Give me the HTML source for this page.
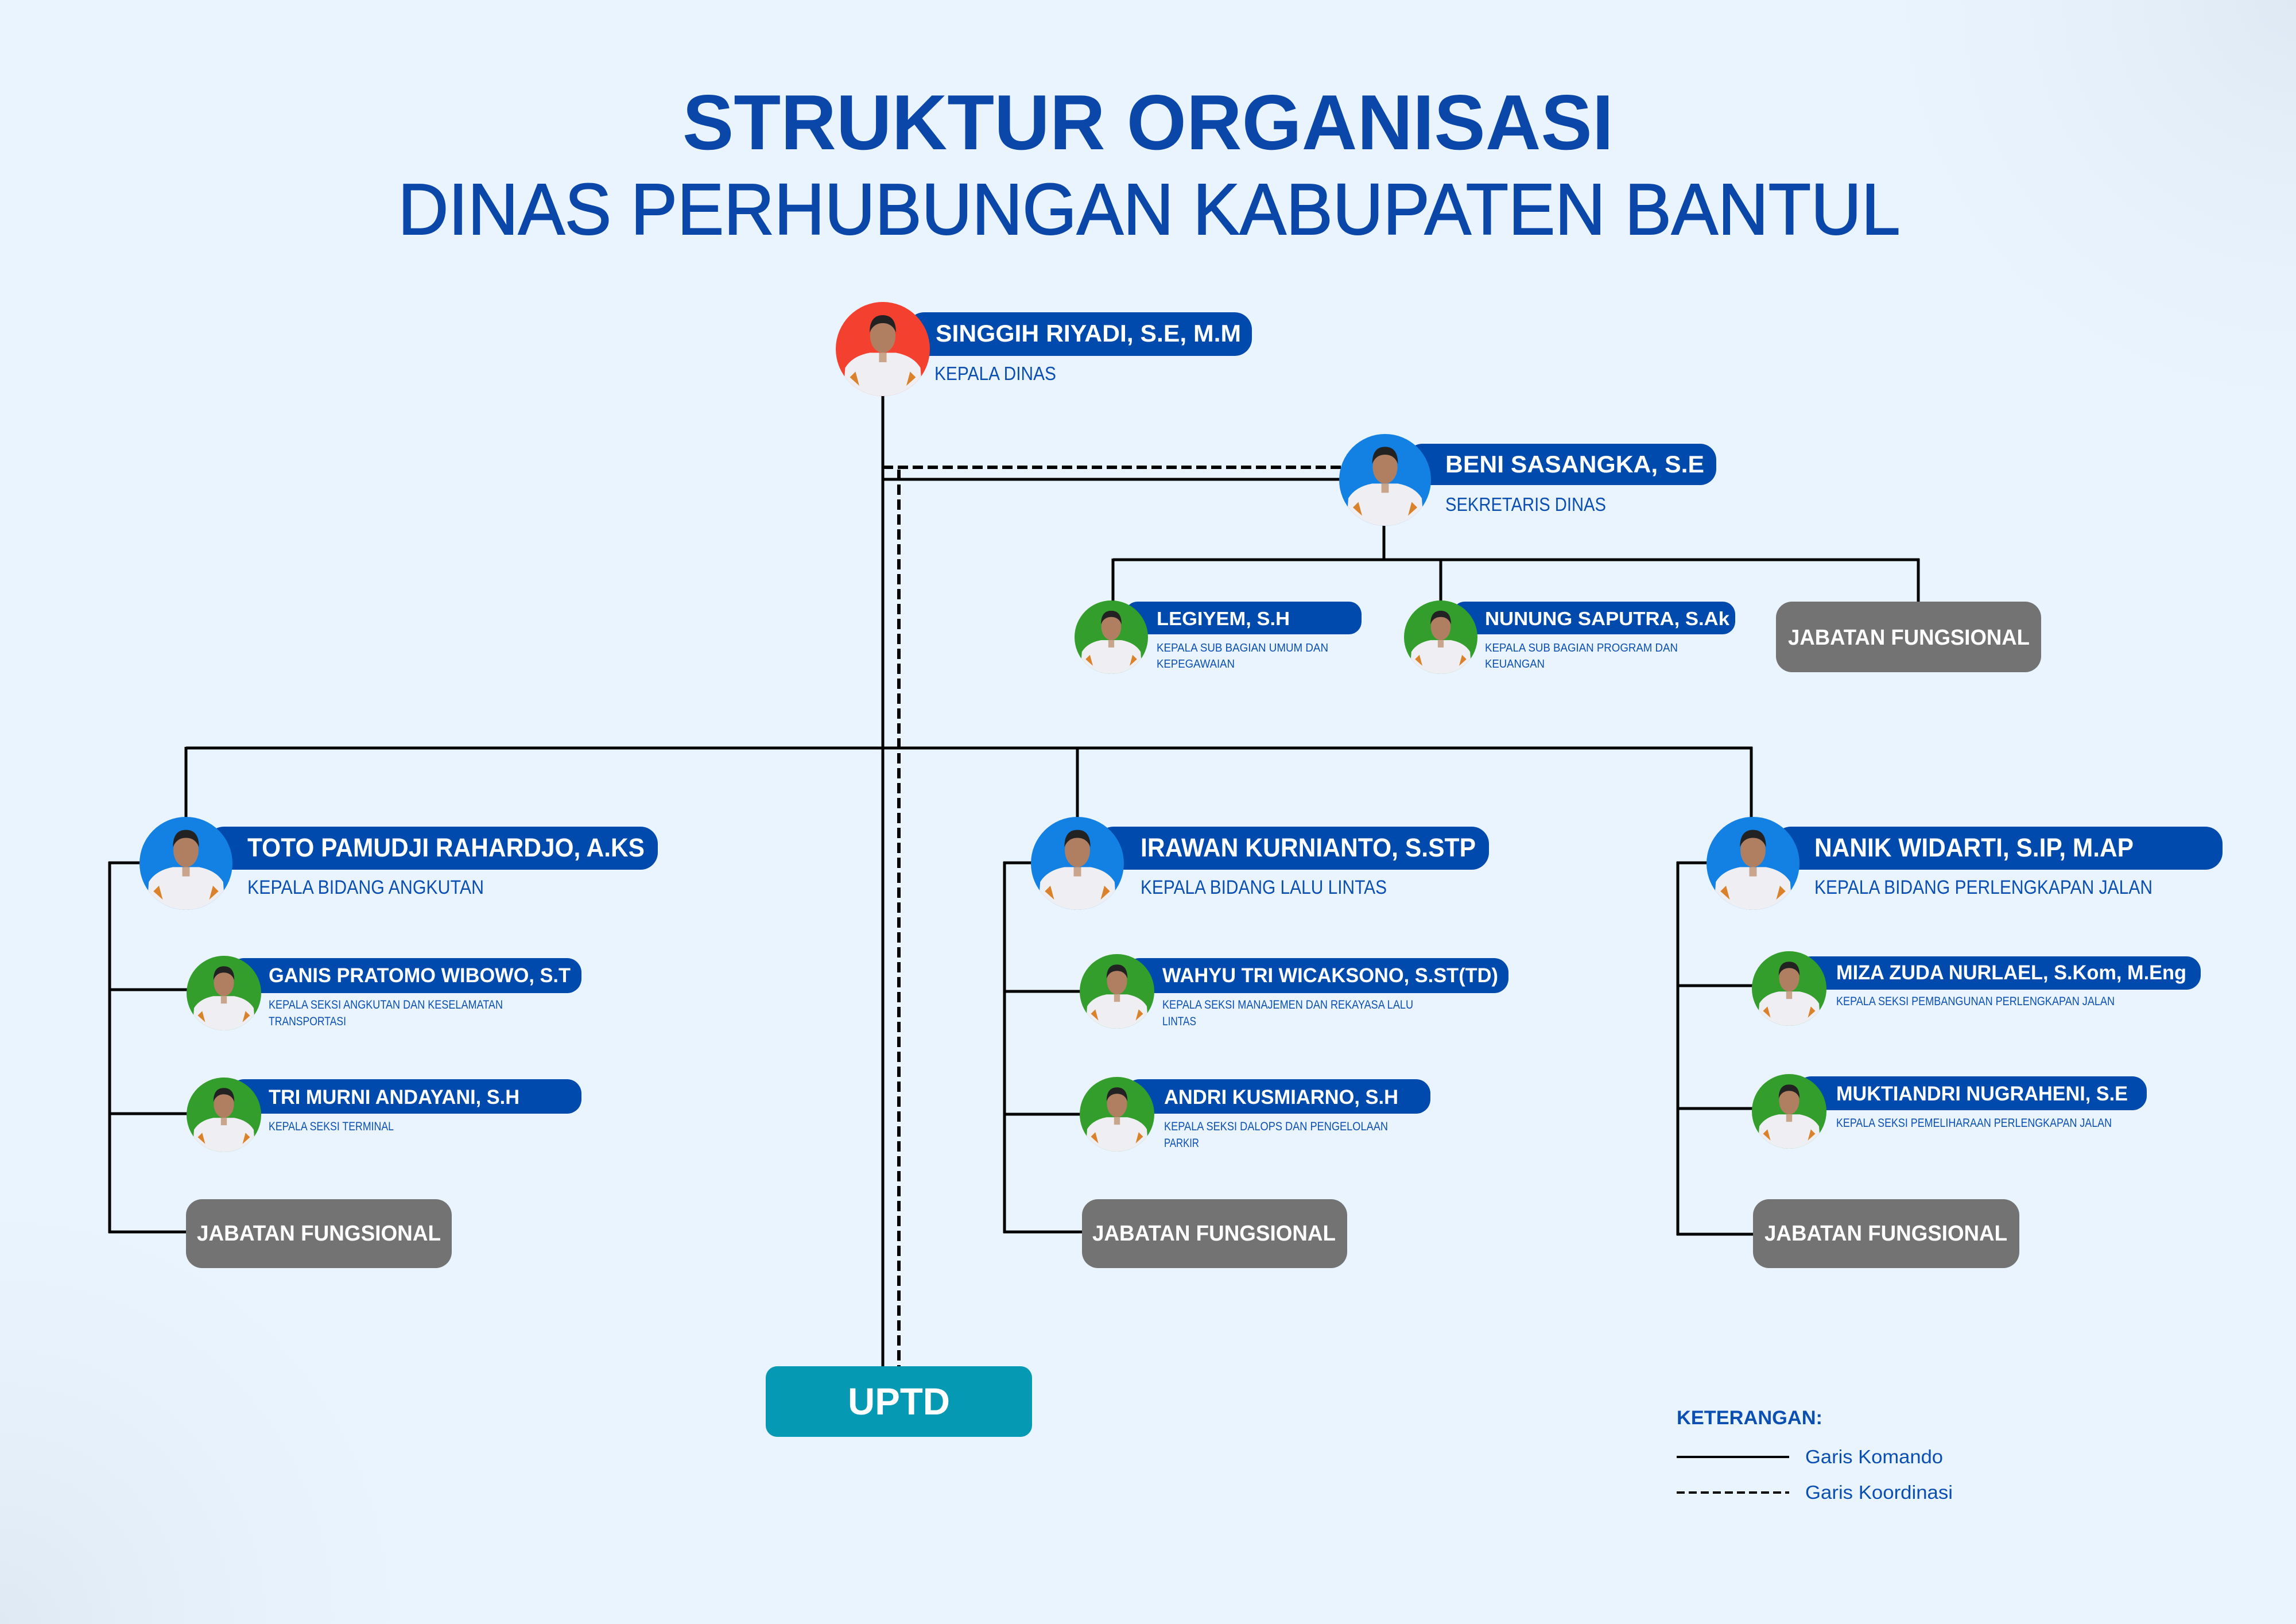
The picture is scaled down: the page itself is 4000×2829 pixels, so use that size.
<!DOCTYPE html>
<html><head><meta charset="utf-8"><style>
html,body{margin:0;padding:0;background:#EAF4FE;}
svg{display:block;}
.t{font-family:"Liberation Sans",sans-serif;}
</style></head><body>
<svg width="4000" height="2829" viewBox="0 0 4000 2829" xmlns="http://www.w3.org/2000/svg" class="t">
<defs>
<radialGradient id="dg" cx="0" cy="1" r="1"><stop offset="0" stop-color="#dfe9f4"/><stop offset="1" stop-color="#EAF4FE" stop-opacity="0"/></radialGradient>
<radialGradient id="dg2" cx="1" cy="0" r="1"><stop offset="0" stop-color="#dfe9f4"/><stop offset="1" stop-color="#EAF4FE" stop-opacity="0"/></radialGradient>
<symbol id="p" viewBox="-100 -100 200 200">
<clipPath id="cc"><circle cx="0" cy="0" r="100"/></clipPath>
<g clip-path="url(#cc)">
<path d="M-85 110 L-80 40 Q-65 15 -28 8 L28 8 Q65 15 80 40 L85 110 Z" fill="#eeeef3"/>
<path d="M-70 60 l12 -12 l8 30 z M70 60 l-12 -12 l-8 30 z" fill="#d9822b"/>
<rect x="-8" y="8" width="16" height="20" fill="#c9a58c"/>
<ellipse cx="0" cy="-28" rx="27" ry="36" fill="#b07f62"/>
<path d="M-28 -35 Q-28 -72 0 -72 Q28 -72 28 -35 Q20 -55 0 -55 Q-20 -55 -28 -35 Z" fill="#222"/>
</g>
</symbol>
</defs>
<rect width="4000" height="2829" fill="#EAF4FE"/>
<rect x="0" y="1900" width="900" height="929" fill="url(#dg)"/>
<rect x="3100" y="0" width="900" height="900" fill="url(#dg2)"/>

<text x="2000" y="260" text-anchor="middle" font-size="136" font-weight="bold" fill="#0A47A8" textLength="1622" lengthAdjust="spacingAndGlyphs">STRUKTUR ORGANISASI</text>
<text x="2002" y="408" text-anchor="middle" font-size="126" fill="#0A47A8" textLength="2617" lengthAdjust="spacingAndGlyphs" stroke="#0A47A8" stroke-width="2">DINAS PERHUBUNGAN KABUPATEN BANTUL</text>

<g stroke="#000" stroke-width="5" fill="none">
<line x1="1538" y1="688" x2="1538" y2="2382"/>
<line x1="1538" y1="835" x2="2336" y2="835"/>
<line x1="2411" y1="915" x2="2411" y2="975"/>
<line x1="1939" y1="975" x2="3344" y2="975"/>
<line x1="1939" y1="973" x2="1939" y2="1048"/>
<line x1="2510" y1="973" x2="2510" y2="1048"/>
<line x1="3342" y1="973" x2="3342" y2="1050"/>
<line x1="324" y1="1303" x2="3053" y2="1303"/>
<line x1="324" y1="1301" x2="324" y2="1425"/>
<line x1="1877" y1="1301" x2="1877" y2="1425"/>
<line x1="3051" y1="1301" x2="3051" y2="1425"/>
<line x1="191" y1="1501" x2="191" y2="2148"/>
<line x1="189" y1="1503" x2="245" y2="1503"/>
<line x1="189" y1="1724" x2="327" y2="1724"/>
<line x1="189" y1="1940" x2="327" y2="1940"/>
<line x1="189" y1="2146" x2="326" y2="2146"/>
<line x1="1750" y1="1501" x2="1750" y2="2148"/>
<line x1="1748" y1="1503" x2="1798" y2="1503"/>
<line x1="1748" y1="1727" x2="1883" y2="1727"/>
<line x1="1748" y1="1941" x2="1883" y2="1941"/>
<line x1="1748" y1="2146" x2="1887" y2="2146"/>
<line x1="2923" y1="1501" x2="2923" y2="2152"/>
<line x1="2921" y1="1503" x2="2975" y2="1503"/>
<line x1="2921" y1="1717" x2="3054" y2="1717"/>
<line x1="2921" y1="1931" x2="3054" y2="1931"/>
<line x1="2921" y1="2150" x2="3056" y2="2150"/>
<line x1="2921" y1="2538" x2="3117" y2="2538" stroke-width="4"/>
</g>
<g stroke="#000" stroke-width="6" fill="none" stroke-dasharray="18 8">
<line x1="1538" y1="814" x2="2336" y2="814"/>
<line x1="1566" y1="818" x2="1566" y2="2382"/>
<line x1="2921" y1="2600" x2="3117" y2="2600" stroke-width="4" stroke-dasharray="14 7"/>
</g>

<!-- pills -->
<g fill="#004AAD">
<rect x="1580" y="544" width="601" height="76" rx="30"/>
<rect x="2450" y="773" width="540" height="72" rx="28"/>
<rect x="1960" y="1048" width="412" height="57" rx="22"/>
<rect x="2530" y="1048" width="493" height="57" rx="22"/>
<rect x="360" y="1440" width="786" height="75" rx="30"/>
<rect x="400" y="1669" width="613" height="61" rx="25"/>
<rect x="400" y="1880" width="613" height="60" rx="25"/>
<rect x="1910" y="1440" width="684" height="75" rx="30"/>
<rect x="1960" y="1669" width="668" height="61" rx="25"/>
<rect x="1960" y="1880" width="532" height="60" rx="25"/>
<rect x="3090" y="1440" width="782" height="75" rx="30"/>
<rect x="3130" y="1666" width="704" height="58" rx="25"/>
<rect x="3130" y="1875" width="610" height="59" rx="25"/>
</g>
<g fill="#737373">
<rect x="3094" y="1048" width="462" height="123" rx="28"/>
<rect x="324" y="2089" width="463" height="120" rx="28"/>
<rect x="1885" y="2089" width="462" height="120" rx="28"/>
<rect x="3054" y="2089" width="464" height="120" rx="28"/>
</g>
<rect x="1334" y="2380" width="464" height="123" rx="20" fill="#0599B3"/>

<!-- photos -->
<circle cx="1538" cy="608" r="82" fill="#F4412F"/><use href="#p" x="1456" y="526" width="164" height="164"/>
<circle cx="2413" cy="836" r="80" fill="#1381E3"/><use href="#p" x="2333" y="756" width="160" height="160"/>
<circle cx="1936" cy="1110" r="64" fill="#339E2B"/><use href="#p" x="1872" y="1046" width="128" height="128"/>
<circle cx="2510" cy="1110" r="64" fill="#339E2B"/><use href="#p" x="2446" y="1046" width="128" height="128"/>
<circle cx="324" cy="1504" r="81" fill="#1381E3"/><use href="#p" x="243" y="1423" width="162" height="162"/>
<circle cx="390" cy="1730" r="65" fill="#339E2B"/><use href="#p" x="325" y="1665" width="130" height="130"/>
<circle cx="390" cy="1942" r="65" fill="#339E2B"/><use href="#p" x="325" y="1877" width="130" height="130"/>
<circle cx="1877" cy="1504" r="81" fill="#1381E3"/><use href="#p" x="1796" y="1423" width="162" height="162"/>
<circle cx="1946" cy="1727" r="65" fill="#339E2B"/><use href="#p" x="1881" y="1662" width="130" height="130"/>
<circle cx="1946" cy="1941" r="65" fill="#339E2B"/><use href="#p" x="1881" y="1876" width="130" height="130"/>
<circle cx="3054" cy="1504" r="81" fill="#1381E3"/><use href="#p" x="2973" y="1423" width="162" height="162"/>
<circle cx="3117" cy="1722" r="65" fill="#339E2B"/><use href="#p" x="3052" y="1657" width="130" height="130"/>
<circle cx="3117" cy="1936" r="65" fill="#339E2B"/><use href="#p" x="3052" y="1871" width="130" height="130"/>

<!-- names -->
<g fill="#fff" font-weight="bold">
<text x="1630" y="595" font-size="42" textLength="532" lengthAdjust="spacingAndGlyphs">SINGGIH RIYADI, S.E, M.M</text>
<text x="2518" y="823" font-size="42" textLength="451" lengthAdjust="spacingAndGlyphs">BENI SASANGKA, S.E</text>
<text x="2015" y="1089" font-size="33" textLength="232" lengthAdjust="spacingAndGlyphs">LEGIYEM, S.H</text>
<text x="2587" y="1089" font-size="33" textLength="426" lengthAdjust="spacingAndGlyphs">NUNUNG SAPUTRA, S.Ak</text>
<text x="3115" y="1123" font-size="38" textLength="421" lengthAdjust="spacingAndGlyphs">JABATAN FUNGSIONAL</text>
<text x="431" y="1492" font-size="45" textLength="692" lengthAdjust="spacingAndGlyphs">TOTO PAMUDJI RAHARDJO, A.KS</text>
<text x="468" y="1711" font-size="35" textLength="526" lengthAdjust="spacingAndGlyphs">GANIS PRATOMO WIBOWO, S.T</text>
<text x="468" y="1923" font-size="35" textLength="437" lengthAdjust="spacingAndGlyphs">TRI MURNI ANDAYANI, S.H</text>
<text x="343" y="2161" font-size="38" textLength="425" lengthAdjust="spacingAndGlyphs">JABATAN FUNGSIONAL</text>
<text x="1987" y="1492" font-size="45" textLength="584" lengthAdjust="spacingAndGlyphs">IRAWAN KURNIANTO, S.STP</text>
<text x="2025" y="1711" font-size="35" textLength="585" lengthAdjust="spacingAndGlyphs">WAHYU TRI WICAKSONO, S.ST(TD)</text>
<text x="2028" y="1923" font-size="35" textLength="408" lengthAdjust="spacingAndGlyphs">ANDRI KUSMIARNO, S.H</text>
<text x="1903" y="2161" font-size="38" textLength="424" lengthAdjust="spacingAndGlyphs">JABATAN FUNGSIONAL</text>
<text x="3161" y="1492" font-size="45" textLength="556" lengthAdjust="spacingAndGlyphs">NANIK WIDARTI, S.IP, M.AP</text>
<text x="3199" y="1706" font-size="35" textLength="610" lengthAdjust="spacingAndGlyphs">MIZA ZUDA NURLAEL, S.Kom, M.Eng</text>
<text x="3199" y="1917" font-size="35" textLength="508" lengthAdjust="spacingAndGlyphs">MUKTIANDRI NUGRAHENI, S.E</text>
<text x="3074" y="2161" font-size="38" textLength="423" lengthAdjust="spacingAndGlyphs">JABATAN FUNGSIONAL</text>
<text x="1566" y="2464" text-anchor="middle" font-size="66" textLength="178" lengthAdjust="spacingAndGlyphs">UPTD</text>
</g>

<!-- subtitles -->
<g fill="#0B4FB3">
<text x="1628" y="662" font-size="33" textLength="212" lengthAdjust="spacingAndGlyphs">KEPALA DINAS</text>
<text x="2518" y="890" font-size="33" textLength="280" lengthAdjust="spacingAndGlyphs">SEKRETARIS DINAS</text>
<text x="2015" y="1135" font-size="20" textLength="299" lengthAdjust="spacingAndGlyphs">KEPALA SUB BAGIAN UMUM DAN</text>
<text x="2015" y="1163" font-size="20" textLength="136" lengthAdjust="spacingAndGlyphs">KEPEGAWAIAN</text>
<text x="2587" y="1135" font-size="20" textLength="336" lengthAdjust="spacingAndGlyphs">KEPALA SUB BAGIAN PROGRAM DAN</text>
<text x="2587" y="1163" font-size="20" textLength="104" lengthAdjust="spacingAndGlyphs">KEUANGAN</text>
<text x="431" y="1557" font-size="34" textLength="412" lengthAdjust="spacingAndGlyphs">KEPALA BIDANG ANGKUTAN</text>
<text x="468" y="1757" font-size="21" textLength="408" lengthAdjust="spacingAndGlyphs">KEPALA SEKSI ANGKUTAN DAN KESELAMATAN</text>
<text x="468" y="1786" font-size="21" textLength="135" lengthAdjust="spacingAndGlyphs">TRANSPORTASI</text>
<text x="468" y="1969" font-size="21" textLength="218" lengthAdjust="spacingAndGlyphs">KEPALA SEKSI TERMINAL</text>
<text x="1987" y="1557" font-size="34" textLength="429" lengthAdjust="spacingAndGlyphs">KEPALA BIDANG LALU LINTAS</text>
<text x="2025" y="1757" font-size="21" textLength="437" lengthAdjust="spacingAndGlyphs">KEPALA SEKSI MANAJEMEN DAN REKAYASA LALU</text>
<text x="2025" y="1786" font-size="21" textLength="59" lengthAdjust="spacingAndGlyphs">LINTAS</text>
<text x="2028" y="1969" font-size="21" textLength="390" lengthAdjust="spacingAndGlyphs">KEPALA SEKSI DALOPS DAN PENGELOLAAN</text>
<text x="2028" y="1998" font-size="21" textLength="61" lengthAdjust="spacingAndGlyphs">PARKIR</text>
<text x="3161" y="1557" font-size="34" textLength="589" lengthAdjust="spacingAndGlyphs">KEPALA BIDANG PERLENGKAPAN JALAN</text>
<text x="3199" y="1751" font-size="21" textLength="485" lengthAdjust="spacingAndGlyphs">KEPALA SEKSI PEMBANGUNAN PERLENGKAPAN JALAN</text>
<text x="3199" y="1963" font-size="21" textLength="480" lengthAdjust="spacingAndGlyphs">KEPALA SEKSI PEMELIHARAAN PERLENGKAPAN JALAN</text>
<text x="2921" y="2481" font-size="34" font-weight="bold" textLength="254" lengthAdjust="spacingAndGlyphs">KETERANGAN:</text>
<text x="3145" y="2549" font-size="33" textLength="240" lengthAdjust="spacingAndGlyphs">Garis Komando</text>
<text x="3145" y="2611" font-size="33" textLength="257" lengthAdjust="spacingAndGlyphs">Garis Koordinasi</text>
</g>
</svg>
</body></html>
